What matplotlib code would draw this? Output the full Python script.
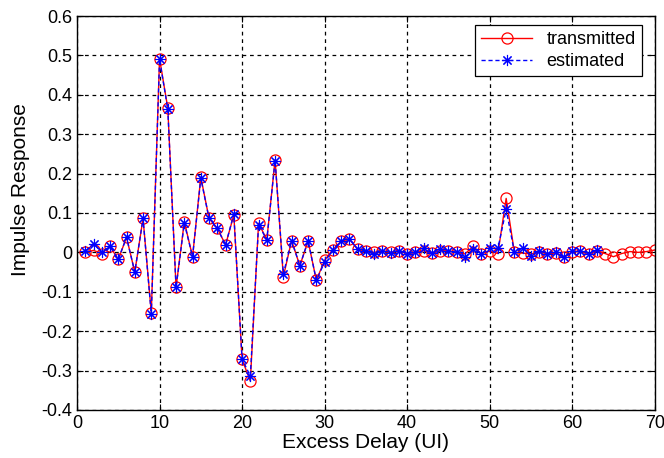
import numpy as np
import matplotlib
matplotlib.use("Agg")
import matplotlib.pyplot as plt

plt.rcParams['font.family'] = ['Liberation Sans', 'DejaVu Sans']

# Channel impulse response, one tap per unit interval
delay_tx = list(range(1, 71))
transmitted = [
    0.000, 0.005, -0.003, 0.015, -0.018, 0.038, -0.050, 0.086, -0.153, 0.492,
    0.366, -0.089, 0.078, -0.011, 0.191, 0.086, 0.061, 0.019, 0.095, -0.272,
    -0.327, 0.074, 0.032, 0.235, -0.062, 0.030, -0.034, 0.029, -0.071, -0.020,
    0.007, 0.028, 0.034, 0.008, 0.003, 0.000, 0.004, 0.000, 0.004, -0.003,
    0.000, 0.004, -0.002, 0.004, 0.004, 0.000, -0.004, 0.015, -0.003, 0.003,
    -0.003, 0.137, 0.000, -0.002, -0.004, 0.000, -0.003, -0.002, -0.011, 0.002,
    0.003, -0.003, 0.003, -0.003, -0.011, -0.003, 0.002, 0.000, 0.002, 0.006,
]

delay_est = list(range(1, 64))
estimated = [
    0.003, 0.022, 0.000, 0.015, -0.017, 0.038, -0.050, 0.086, -0.157, 0.490,
    0.363, -0.089, 0.074, -0.011, 0.188, 0.086, 0.061, 0.019, 0.097, -0.271,
    -0.314, 0.070, 0.032, 0.233, -0.055, 0.030, -0.034, 0.029, -0.071, -0.025,
    0.007, 0.028, 0.034, 0.008, 0.003, -0.005, 0.004, -0.002, 0.004, -0.003,
    0.000, 0.010, -0.002, 0.008, 0.004, 0.000, -0.013, 0.008, -0.003, 0.010,
    0.010, 0.109, 0.000, 0.011, -0.008, 0.004, -0.003, 0.001, -0.013, 0.004,
    0.003, -0.003, 0.006,
]

x_ticks = [0, 10, 20, 30, 40, 50, 60, 70]
y_ticks = [-0.4, -0.3, -0.2, -0.1, 0, 0.1, 0.2, 0.3, 0.4, 0.5, 0.6]
y_tick_labels = ['-0.4', '-0.3', '-0.2', '-0.1', '0', '0.1', '0.2', '0.3',
                 '0.4', '0.5', '0.6']

fig = plt.figure(figsize=(6.64, 4.58), dpi=100)
ax = fig.add_axes([0.116, 0.105, 0.870, 0.860])

# asterisk marker made of eight spokes (a "+" laid over an "x")
asterisk = (8, 2, 0)

ax.plot(delay_tx, transmitted, color='red', linewidth=1.0, marker='o',
        markersize=8, markerfacecolor='none', markeredgecolor='red',
        markeredgewidth=0.9, label='transmitted')
ax.plot(delay_est, estimated, color='blue', linewidth=1.0, linestyle='--',
        dashes=(3, 2), marker=asterisk, markersize=8, markerfacecolor='blue',
        markeredgecolor='blue', markeredgewidth=0.8, label='estimated')

ax.set_xlim(0, 70)
ax.set_ylim(-0.4, 0.6)
ax.set_xticks(x_ticks)
ax.set_yticks(y_ticks)
ax.set_yticklabels(y_tick_labels)
ax.grid(True, color='black', linestyle=(0, (3, 3)), linewidth=0.9)
ax.tick_params(direction='in', top=True, right=True, labelsize=13,
               length=4, width=0.8)
for s in ax.spines.values():
    s.set_linewidth(1.0)

ax.set_xlabel('Excess Delay (UI)', fontsize=15, labelpad=1)
ax.set_ylabel('Impulse Response', fontsize=15, labelpad=3)
ax.yaxis.set_label_coords(-0.082, 0.56)

leg = ax.legend(loc='upper right', fontsize=13, frameon=True, fancybox=False,
                edgecolor='black', framealpha=1, borderpad=0.35,
                borderaxespad=0, handlelength=2.8, labelspacing=0.25,
                bbox_to_anchor=(0.978, 0.977))
leg.get_frame().set_linewidth(0.9)

fig.savefig('out.png', dpi=100)
